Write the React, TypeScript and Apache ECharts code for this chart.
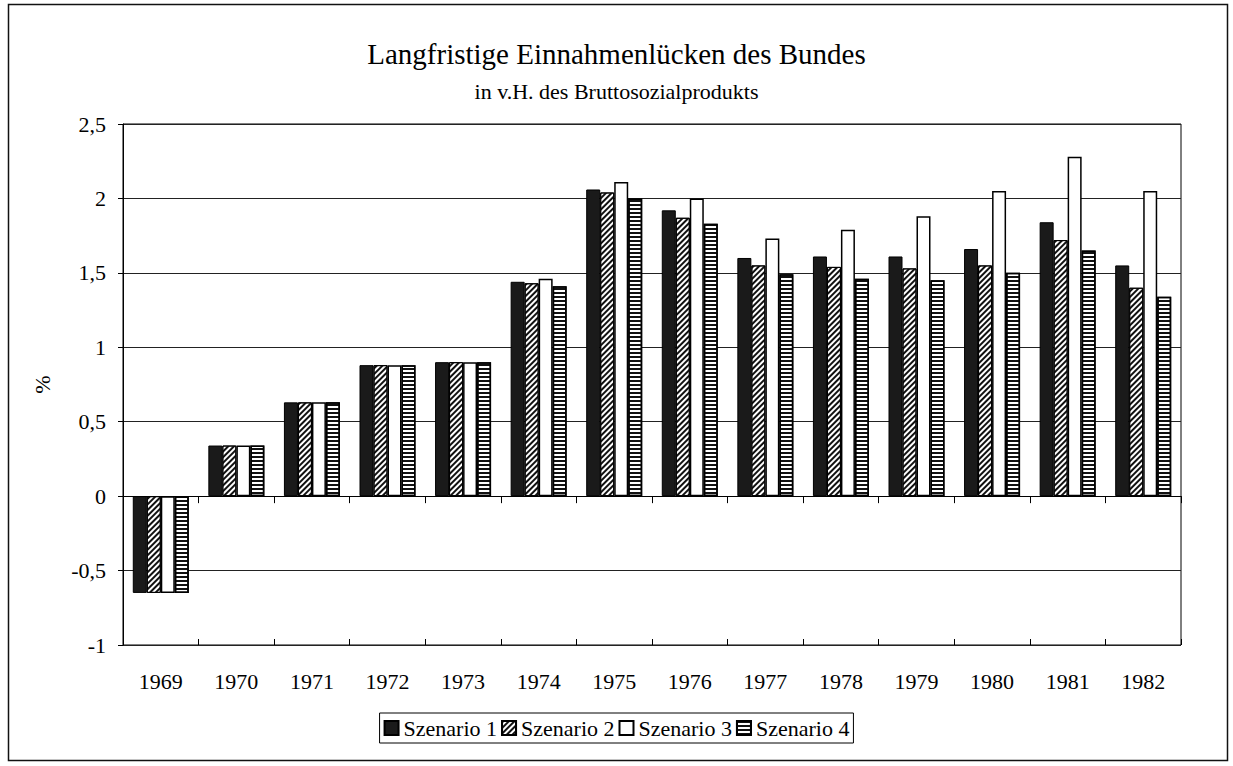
import React, { useEffect, useRef } from "react";
import * as echarts from "echarts";

const years = ["1969", "1970", "1971", "1972", "1973", "1974", "1975", "1976", "1977", "1978", "1979", "1980", "1981", "1982"];
const szenario1 = [-0.65, 0.34, 0.63, 0.88, 0.9, 1.44, 2.06, 1.92, 1.6, 1.61, 1.61, 1.66, 1.84, 1.55];
const szenario2 = [-0.65, 0.34, 0.63, 0.88, 0.9, 1.43, 2.04, 1.87, 1.55, 1.54, 1.53, 1.55, 1.72, 1.4];
const szenario3 = [-0.65, 0.34, 0.63, 0.88, 0.9, 1.46, 2.11, 2.0, 1.73, 1.79, 1.88, 2.05, 2.28, 2.05];
const szenario4 = [-0.65, 0.34, 0.63, 0.88, 0.9, 1.41, 2.0, 1.83, 1.49, 1.46, 1.45, 1.5, 1.65, 1.34];
const seriesNames = ["Szenario 1", "Szenario 2", "Szenario 3", "Szenario 4"];
const titleText = "Langfristige Einnahmenlücken des Bundes";
const subtitleText = "in v.H. des Bruttosozialprodukts";

const FONT = "'Liberation Serif', 'Times New Roman', serif";
const INK = "#000";

export default function App() {
  const ref = useRef<HTMLDivElement>(null);
  useEffect(() => {
    if (!ref.current) return;
    const chart = echarts.init(ref.current, null, { renderer: "svg" });
    const hatch = {
      symbol: "rect",
      symbolSize: 1,
      color: "#111",
      dashArrayX: [1, 0],
      dashArrayY: [1.2, 1.6],
      rotation: -Math.PI / 4,
    };
    const stripes = {
      symbol: "rect",
      symbolSize: 1,
      color: "#111",
      dashArrayX: [1, 0],
      dashArrayY: [2, 2],
      rotation: 0,
    };
    const base = { type: "bar", barWidth: 14, barGap: "0%", xAxisIndex: 0, yAxisIndex: 0 };
    chart.setOption({
      animation: false,
      backgroundColor: "#fff",
      textStyle: { fontFamily: FONT, color: INK },
      title: [
        {
          text: titleText,
          left: "center",
          top: 34,
          textStyle: { fontFamily: FONT, fontSize: 29, fontWeight: "normal", color: INK },
        },
        {
          text: subtitleText,
          left: "center",
          top: 75,
          textStyle: { fontFamily: FONT, fontSize: 22, fontWeight: "normal", color: INK },
        },
      ],
      legend: {
        data: seriesNames,
        left: "center",
        top: 713,
        orient: "horizontal",
        borderColor: "#000",
        borderWidth: 1,
        padding: [4, 4],
        itemWidth: 14,
        itemHeight: 14,
        itemGap: 4,
        icon: "rect",
        textStyle: { fontFamily: FONT, fontSize: 22, color: INK },
      },
      grid: {
        left: 123,
        top: 124,
        right: 52,
        bottom: 121,
        show: true,
        borderColor: "#000",
        borderWidth: 1,
        backgroundColor: "transparent",
      },
      xAxis: [
        {
          type: "category",
          data: years,
          position: "bottom",
          axisLine: { show: false, onZero: false },
          axisTick: { show: false },
          axisLabel: { margin: 25, fontSize: 22, fontFamily: FONT, color: INK },
          splitLine: { show: false },
        },
        {
          type: "category",
          data: years,
          position: "bottom",
          axisLine: { show: true, onZero: true, lineStyle: { color: "#000", width: 1 } },
          axisTick: { show: true, length: 7, lineStyle: { color: "#000" } },
          axisLabel: { show: false },
          splitLine: { show: false },
        },
        {
          type: "category",
          data: years,
          position: "bottom",
          axisLine: { show: false, onZero: true },
          axisTick: { show: true, inside: true, length: 6, lineStyle: { color: "#000" } },
          axisLabel: { show: false },
          splitLine: { show: false },
        },
      ],
      yAxis: {
        type: "value",
        min: -1,
        max: 2.5,
        interval: 0.5,
        name: "%",
        nameLocation: "middle",
        nameGap: 70,
        nameTextStyle: { fontFamily: FONT, fontSize: 22, color: INK },
        axisLine: { show: true, lineStyle: { color: "#000", width: 1 } },
        axisTick: { show: true, length: 5, lineStyle: { color: "#000" } },
        axisLabel: {
          margin: 17,
          fontSize: 22,
          fontFamily: FONT,
          color: INK,
          formatter: (v: number) => String(v).replace(".", ","),
        },
        splitLine: { show: true, lineStyle: { color: "#222", width: 1 } },
      },
      graphic: [
        {
          type: "rect",
          shape: { x: 8.5, y: 4.5, width: 1219, height: 756 },
          style: { fill: "none", stroke: "#111", lineWidth: 1.5 },
          silent: true,
        },
      ],
      series: [
        {
          ...base,
          name: seriesNames[0],
          data: szenario1,
          itemStyle: { color: "#1a1a1a", borderColor: "#000", borderWidth: 1 },
        },
        {
          ...base,
          name: seriesNames[1],
          data: szenario2,
          itemStyle: { color: "#fff", borderColor: "#000", borderWidth: 1, decal: hatch },
        },
        {
          ...base,
          name: seriesNames[2],
          data: szenario3,
          itemStyle: { color: "#fff", borderColor: "#000", borderWidth: 1.5 },
        },
        {
          ...base,
          name: seriesNames[3],
          data: szenario4,
          itemStyle: { color: "#fff", borderColor: "#000", borderWidth: 1.5, decal: stripes },
        },
      ],
    });
    return () => chart.dispose();
  }, []);
  return (
    <div
      ref={ref}
      style={{ position: "fixed", left: 0, top: 0, width: 1233, height: 766, background: "#fff" }}
    />
  );
}
